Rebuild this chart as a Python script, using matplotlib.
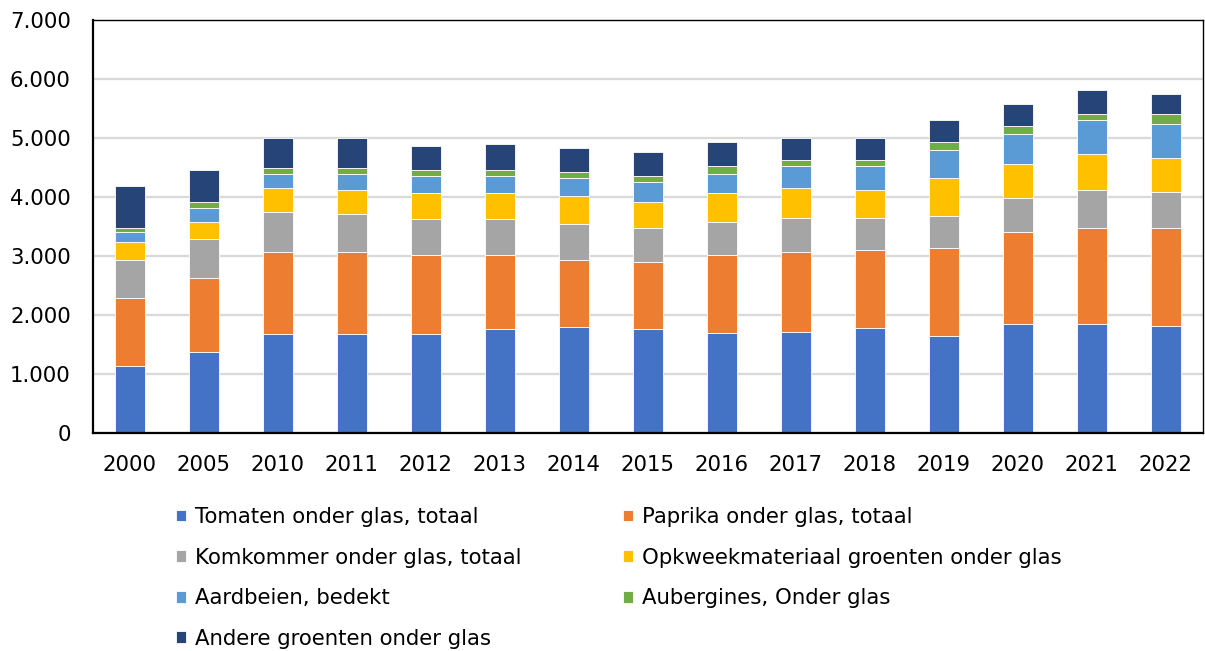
import numpy as np
import matplotlib
matplotlib.use("Agg")
import matplotlib.pyplot as plt
from matplotlib.ticker import FuncFormatter

years = ["2000", "2005", "2010", "2011", "2012", "2013", "2014", "2015",
         "2016", "2017", "2018", "2019", "2020", "2021", "2022"]

tomaten = [1140, 1380, 1680, 1680, 1680, 1760, 1790, 1760, 1690, 1720, 1780, 1650, 1850, 1850, 1820]
paprika = [1150, 1250, 1390, 1390, 1330, 1250, 1150, 1140, 1320, 1350, 1330, 1490, 1560, 1630, 1660]
komkommer = [650, 650, 680, 650, 610, 610, 610, 580, 570, 580, 540, 540, 580, 640, 610]
opkweek = [300, 300, 400, 400, 440, 440, 470, 440, 480, 510, 470, 650, 570, 610, 570]
aardbeien = [170, 240, 240, 270, 300, 300, 310, 340, 330, 370, 410, 470, 500, 570, 570]
aubergines = [70, 100, 100, 100, 100, 100, 90, 100, 140, 100, 100, 130, 140, 110, 180]
andere = [710, 540, 510, 510, 400, 440, 410, 400, 400, 370, 370, 380, 380, 400, 340]

series = [
    ("Tomaten onder glas, totaal", tomaten, "#4472C4"),
    ("Paprika onder glas, totaal", paprika, "#ED7D31"),
    ("Komkommer onder glas, totaal", komkommer, "#A5A5A5"),
    ("Opkweekmateriaal groenten onder glas", opkweek, "#FFC000"),
    ("Aardbeien, bedekt", aardbeien, "#5B9BD5"),
    ("Aubergines, Onder glas", aubergines, "#70AD47"),
    ("Andere groenten onder glas", andere, "#264478"),
]

fs = 15.3
fig = plt.figure(figsize=(12.05, 6.51), dpi=100)
ax = fig.add_axes([93 / 1205, 1 - 433 / 651, 1110 / 1205, 413 / 651])

x = np.arange(len(years))
bottom = np.zeros(len(years))
handles = {}
for name, vals, col in series:
    vals = np.array(vals, dtype=float)
    b = ax.bar(x, vals, 0.405, bottom=bottom, color=col, edgecolor="white",
               linewidth=0.6, label=name, zorder=3)
    handles[name] = b
    bottom += vals

ax.set_xlim(-0.5, len(years) - 0.5)
ax.set_ylim(0, 7000)
ax.set_yticks(range(0, 7001, 1000))
ax.yaxis.set_major_formatter(FuncFormatter(lambda v, p: f"{int(v):,}".replace(",", ".")))
ax.set_xticks(x)
ax.set_xticklabels(years)
ax.tick_params(axis="both", length=0, labelsize=fs, colors="black")
ax.tick_params(axis="y", pad=16)
ax.tick_params(axis="x", pad=15.5)
ax.yaxis.grid(True, color="#d9d9d9", linewidth=1.6, zorder=0)
ax.set_axisbelow(True)
for s in ["left", "bottom"]:
    ax.spines[s].set_linewidth(1.6)
for s in ["top", "right"]:
    ax.spines[s].set_linewidth(1.0)
for s in ax.spines.values():
    s.set_color("black")
    s.set_zorder(4)

# legend columns: first column 4 entries, second 3
order = [0, 2, 4, 6, 1, 3, 5]
h = [handles[series[i][0]] for i in order]
l = [series[i][0] for i in order]
fig.legend(h, l, loc="upper left", bbox_to_anchor=(176 / 1205, 1 - 507 / 651),
           ncol=2, frameon=False, fontsize=fs, handlelength=0.48, handleheight=0.48,
           handletextpad=0.42, columnspacing=4.75, labelspacing=0.97, borderpad=0,
           borderaxespad=0)

fig.savefig("out.png", dpi=100)
